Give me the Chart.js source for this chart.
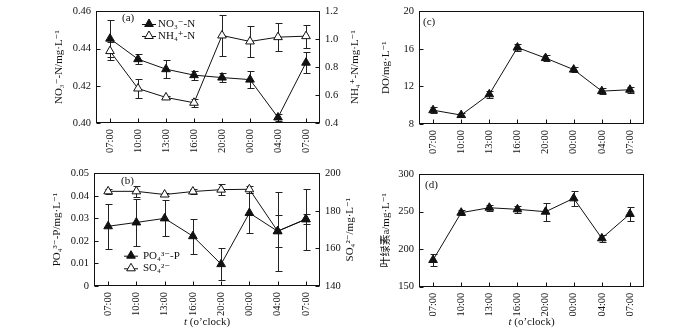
<!DOCTYPE html>
<html>
<head>
<meta charset="utf-8">
<script src="https://cdn.jsdelivr.net/npm/chart.js@4.4.1/dist/chart.umd.min.js"></script>
<style>
  body { margin: 0; background: #fff; }
  #wrap { position: relative; width: 700px; height: 329px; }
  canvas { position: absolute; }
</style>
</head>
<body>
<div id="wrap">
  <canvas id="cA" width="380" height="160" style="left:0;top:0"></canvas>
  <canvas id="cB" width="380" height="169" style="left:0;top:160px"></canvas>
  <canvas id="cC" width="320" height="160" style="left:380px;top:0"></canvas>
  <canvas id="cD" width="320" height="169" style="left:380px;top:160px"></canvas>
</div>
<script>
// ── data ─────────────────────────────────────────────────────
const times = ["07:00", "10:00", "13:00", "16:00", "20:00", "00:00", "04:00", "07:00"];

// (a) nitrate / ammonium
const no3    = [0.4453, 0.4343, 0.4289, 0.4257, 0.4244, 0.4233, 0.4030, 0.4324];
const no3Err = [0.0100, 0.0027, 0.0047, 0.0025, 0.0022, 0.0044, 0.0018, 0.0058];
const nh4    = [0.915, 0.647, 0.583, 0.545, 1.027, 0.984, 1.015, 1.022];
const nh4Err = [0.065, 0.071, 0.012, 0.027, 0.150, 0.110, 0.100, 0.083];

// (b) phosphate / sulfate
const po4    = [0.0265, 0.0282, 0.0300, 0.0221, 0.0097, 0.0324, 0.0243, 0.0296];
const po4Err = [0.0100, 0.0106, 0.0080, 0.0077, 0.0072, 0.0090, 0.0175, 0.0135];
const so4    = [190.4, 190.4, 188.7, 190.3, 191.3, 191.5, 169.2, 175.6];
const so4Err = [1.5, 3.0, 1.0, 1.5, 3.0, 2.0, 8.5, 2.5];

// (c) dissolved oxygen
const dox    = [9.47, 8.95, 11.16, 16.14, 15.02, 13.79, 11.50, 11.65];
const doxErr = [0.30, 0.25, 0.40, 0.40, 0.35, 0.30, 0.30, 0.30];

// (d) chlorophyll a
const chl    = [185.5, 248.5, 255.1, 253.0, 249.8, 267.6, 214.4, 246.8];
const chlErr = [8, 3, 4, 5, 12, 10, 5, 9.5];

// tick values + labels
const aLeftTicks   = [0.40, 0.42, 0.44, 0.46];
const aLeftLabels  = ["0.40", "0.42", "0.44", "0.46"];
const aRightTicks  = [0.4, 0.6, 0.8, 1.0, 1.2];
const aRightLabels = ["0.4", "0.6", "0.8", "1.0", "1.2"];
const bLeftTicks   = [0, 0.01, 0.02, 0.03, 0.04, 0.05];
const bLeftLabels  = ["0", "0.01", "0.02", "0.03", "0.04", "0.05"];
const bRightTicks  = [140, 160, 180, 200];
const bRightLabels = ["140", "160", "180", "200"];
const cTicks       = [8, 12, 16, 20];
const cLabels      = ["8", "12", "16", "20"];
const dTicks       = [150, 200, 250, 300];
const dLabels      = ["150", "200", "250", "300"];

// ── style ────────────────────────────────────────────────────
const INK   = "#111";
const SERIF = "'Liberation Serif', 'DejaVu Serif', 'Noto Sans CJK SC', serif";

// ── plugin: error bars, frame, inward ticks, tags, legend, titles ──
function tri(ctx, x, y, r, filled) {
  ctx.beginPath();
  for (let k = 0; k < 3; k++) {
    const ang = k * 2 * Math.PI / 3;
    const px = x + Math.sin(ang) * r, py = y - Math.cos(ang) * r;
    k ? ctx.lineTo(px, py) : ctx.moveTo(px, py);
  }
  ctx.closePath();
  ctx.fillStyle = filled ? INK : "#fff";
  ctx.fill();
  ctx.stroke();
}

const extras = {
  id: "extras",
  beforeDatasetsDraw(chart) {
    const { ctx, chartArea: a } = chart;
    ctx.save();
    ctx.beginPath();
    ctx.rect(a.left, a.top, a.width, a.height);
    ctx.clip();
    ctx.strokeStyle = "#222";
    ctx.lineWidth = 1;
    chart.data.datasets.forEach((ds, i) => {
      if (!ds.errorBars) return;
      const meta = chart.getDatasetMeta(i);
      const ys = chart.scales[meta.yAxisID];
      meta.data.forEach((pt, j) => {
        const x  = Math.round(pt.x) + 0.5;
        const hi = Math.round(ys.getPixelForValue(ds.data[j] + ds.errorBars[j])) + 0.5;
        const lo = Math.round(ys.getPixelForValue(ds.data[j] - ds.errorBars[j])) + 0.5;
        ctx.beginPath();
        ctx.moveTo(x, hi); ctx.lineTo(x, lo);
        ctx.moveTo(x - 3, hi); ctx.lineTo(x + 4, hi);
        ctx.moveTo(x - 3, lo); ctx.lineTo(x + 4, lo);
        ctx.stroke();
      });
    });
    ctx.restore();
  },
  afterDraw(chart, args, opts) {
    const { ctx, chartArea: a } = chart;
    const L = Math.round(a.left) + 0.5, R = Math.round(a.right) - 0.5;
    const T = Math.round(a.top) + 0.5,  B = Math.round(a.bottom) - 0.5;
    ctx.save();
    ctx.strokeStyle = INK;
    ctx.lineWidth = 1;
    ctx.strokeRect(L, T, R - L, B - T);

    // inward tick marks
    ctx.beginPath();
    Object.values(chart.scales).forEach((s) => {
      s.ticks.forEach((t, i) => {
        const p = Math.round(s.getPixelForTick(i)) + 0.5;
        if (s.axis === "x") { ctx.moveTo(p, B); ctx.lineTo(p, B - 4); }
        else if (s.position === "left") { ctx.moveTo(L, p); ctx.lineTo(L + 4, p); }
        else { ctx.moveTo(R, p); ctx.lineTo(R - 4, p); }
      });
    });
    ctx.stroke();

    ctx.fillStyle = INK;
    ctx.textBaseline = "middle";
    ctx.font = `11px ${SERIF}`;

    // panel tag
    if (opts.tag) {
      ctx.textAlign = "left";
      ctx.fillText(opts.tag, a.left + opts.tagDx, a.top + opts.tagDy);
    }

    // legend
    if (opts.legend) {
      const lg = opts.legend;
      lg.items.forEach((it, k) => {
        const y = lg.y + k * lg.gap;
        ctx.beginPath();
        ctx.moveTo(lg.x - 7, y + 0.5); ctx.lineTo(lg.x + 7, y + 0.5);
        ctx.stroke();
        tri(ctx, lg.x, y, 5, it.filled);
        ctx.fillStyle = INK;
        ctx.textAlign = "left";
        ctx.fillText(it.text, lg.textX, y);
      });
    }

    // right axis title (reads bottom to top)
    if (opts.rightTitle) {
      ctx.save();
      ctx.translate(opts.rightTitle.x, (a.top + a.bottom) / 2);
      ctx.rotate(-Math.PI / 2);
      ctx.textAlign = "center";
      ctx.fillText(opts.rightTitle.text, 0, 0);
      ctx.restore();
    }

    // x title with italic t
    if (opts.xTitle) {
      const cx = (a.left + a.right) / 2;
      const y = opts.xTitle.y;
      ctx.font = `italic 11px ${SERIF}`;
      const w1 = ctx.measureText("t").width;
      ctx.font = `11px ${SERIF}`;
      const rest = " (o\u2019clock)";
      const w2 = ctx.measureText(rest).width;
      let x = cx - (w1 + w2) / 2;
      ctx.textAlign = "left";
      ctx.font = `italic 11px ${SERIF}`;
      ctx.fillText("t", x, y);
      ctx.font = `11px ${SERIF}`;
      ctx.fillText(rest, x + w1, y);
    }
    ctx.restore();
  }
};

// ── builders ─────────────────────────────────────────────────
function series(data, errs, filled, axis) {
  return {
    data, errorBars: errs, yAxisID: axis,
    borderColor: INK, borderWidth: 1, tension: 0, fill: false,
    pointStyle: "triangle", pointRadius: 5, pointHoverRadius: 5,
    pointBackgroundColor: filled ? INK : "#fff",
    pointBorderColor: INK, pointBorderWidth: 1
  };
}

function yAxis(pos, vals, labels, width, title) {
  return {
    type: "linear", position: pos,
    min: vals[0], max: vals[vals.length - 1],
    afterBuildTicks: (s) => { s.ticks = vals.map((v) => ({ value: v })); },
    afterFit: (s) => { s.width = width; },
    grid: { display: false, drawTicks: false },
    border: { display: false },
    ticks: { color: INK, font: { family: SERIF, size: 10.5 }, padding: 5,
             callback: (v, i) => labels[i] },
    title: { display: !!title, text: title || "", color: INK,
             font: { family: SERIF, size: 11 }, padding: 0 }
  };
}

function xAxis(height) {
  return {
    type: "category", offset: true,
    afterFit: (s) => { s.height = height; },
    grid: { display: false, drawTicks: false },
    border: { display: false },
    ticks: { color: INK, font: { family: SERIF, size: 10.5 }, padding: 6,
             minRotation: 90, maxRotation: 90, autoSkip: false }
  };
}

function makeChart(id, datasets, scales, padding, extraOpts) {
  return new Chart(document.getElementById(id), {
    type: "line",
    data: { labels: times, datasets },
    options: {
      responsive: false,
      animation: false,
      layout: { padding },
      plugins: { legend: { display: false }, tooltip: { enabled: false }, extras: extraOpts },
      scales
    },
    plugins: [extras]
  });
}

// ── charts ───────────────────────────────────────────────────
makeChart("cA",
  [series(no3, no3Err, true, "y"), series(nh4, nh4Err, false, "y1")],
  {
    x: xAxis(37),
    y: yAxis("left", aLeftTicks, aLeftLabels, 43, "NO\u2083\u207B-N/mg\u00B7L\u207B\u00B9"),
    y1: yAxis("right", aRightTicks, aRightLabels, 42)
  },
  { left: 53, right: 18, top: 10.7, bottom: 0 },
  {
    tag: "(a)", tagDx: 26, tagDy: 6.5,
    legend: { x: 149, textX: 158, y: 24, gap: 12,
      items: [{ text: "NO\u2083\u207B-N", filled: true }, { text: "NH\u2084\u207A-N", filled: false }] },
    rightTitle: { x: 355, text: "NH\u2084\u207A-N/mg\u00B7L\u207B\u00B9" }
  });

makeChart("cB",
  [series(po4, po4Err, true, "y"), series(so4, so4Err, false, "y1")],
  {
    x: xAxis(43),
    y: yAxis("left", bLeftTicks, bLeftLabels, 43.6, "PO\u2084\u00B3\u207B-P/mg\u00B7L\u207B\u00B9"),
    y1: yAxis("right", bRightTicks, bRightLabels, 36.6)
  },
  { left: 50.4, right: 23.4, top: 13.3, bottom: 0 },
  {
    tag: "(b)", tagDx: 27, tagDy: 7.5,
    legend: { x: 131, textX: 143, y: 95.7, gap: 12.6,
      items: [{ text: "PO\u2084\u00B3\u207B-P", filled: true }, { text: "SO\u2084\u00B2\u207B", filled: false }] },
    rightTitle: { x: 350, text: "SO\u2084\u00B2\u207B/mg\u00B7L\u207B\u00B9" },
    xTitle: { y: 162 }
  });

makeChart("cC",
  [series(dox, doxErr, true, "y")],
  {
    x: xAxis(36),
    y: yAxis("left", cTicks, cLabels, 39, "DO/mg\u00B7L\u207B\u00B9")
  },
  { left: 0, right: 56, top: 10, bottom: 0 },
  { tag: "(c)", tagDx: 4, tagDy: 10.5 });

makeChart("cD",
  [series(chl, chlErr, true, "y")],
  {
    x: xAxis(42.3),
    y: yAxis("left", dTicks, dLabels, 39, "叶绿素a/mg\u00B7L\u207B\u00B9")
  },
  { left: 0, right: 56, top: 14, bottom: 0 },
  { tag: "(d)", tagDx: 6, tagDy: 11, xTitle: { y: 162 } });
</script>
</body>
</html>
